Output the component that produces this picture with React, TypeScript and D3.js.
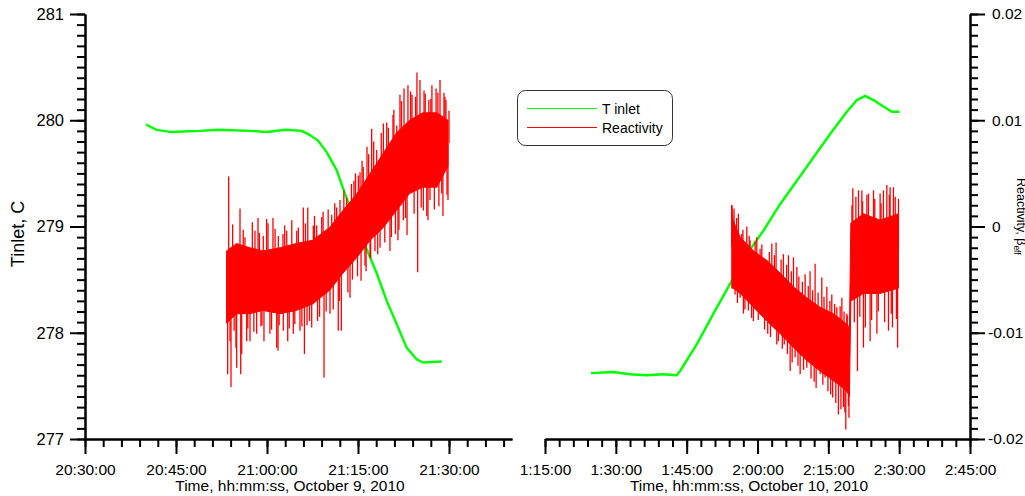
import React from 'react';
import * as d3 from 'd3';

type Pt = [string, number];
type Band = [string, number, number];

// T inlet, C
const tinletOct9: Pt[] = [
  ['20:40:03', 279.96], ['20:41:49', 279.91], ['20:44:00', 279.89], ['20:48:58', 279.90], ['20:52:00', 279.91],
  ['20:57:12', 279.90], ['21:00:00', 279.89], ['21:03:00', 279.91], ['21:05:43', 279.90], ['21:07:05', 279.86],
  ['21:08:24', 279.81], ['21:09:50', 279.70], ['21:11:29', 279.53], ['21:12:51', 279.31], ['21:15:49', 278.87],
  ['21:18:05', 278.56], ['21:19:44', 278.30], ['21:21:23', 278.08], ['21:23:01', 277.86], ['21:24:40', 277.75],
  ['21:25:43', 277.72], ['21:28:48', 277.73],
];

const tinletOct10: Pt[] = [
  ['01:24:45', 277.62], ['01:29:28', 277.63], ['01:33:00', 277.61], ['01:36:33', 277.60], ['01:40:00', 277.61],
  ['01:42:54', 277.60], ['01:43:36', 277.64], ['01:47:08', 277.89], ['01:50:40', 278.18], ['01:54:11', 278.46],
  ['01:57:44', 278.74], ['02:01:15', 278.96], ['02:04:47', 279.21], ['02:08:20', 279.43], ['02:11:50', 279.65],
  ['02:15:23', 279.87], ['02:18:55', 280.08], ['02:21:02', 280.19], ['02:22:48', 280.23], ['02:24:34', 280.19],
  ['02:26:40', 280.13], ['02:28:27', 280.08], ['02:30:04', 280.08],
];

// reactivity: dense band [time, upper, lower] and the spikes out of it
const reactCoreOct9: Band[] = [
  ['20:53:20', -0.0023, -0.0091], ['20:55:00', -0.0016, -0.0082], ['20:57:10', -0.0020, -0.0082],
  ['20:59:20', -0.0023, -0.0079], ['21:02:10', -0.0020, -0.0082], ['21:04:50', -0.0016, -0.0079],
  ['21:07:30', -0.0013, -0.0073], ['21:10:20', -0.0001, -0.0060], ['21:12:30', 0.0015, -0.0044],
  ['21:14:50', 0.0031, -0.0029], ['21:17:00', 0.0050, -0.0013], ['21:19:10', 0.0069, -0.0001],
  ['21:21:20', 0.0088, 0.0015], ['21:23:30', 0.0100, 0.0031], ['21:25:40', 0.0107, 0.0037],
  ['21:28:00', 0.0107, 0.0037], ['21:29:50', 0.0100, 0.0057],
];

const reactSpikesOct9: Pt[] = [
  ['20:53:41', 0.0047], ['20:55:33', 0.0017], ['20:56:22', -0.0010], ['20:58:01', -0.0004], ['20:58:31', 0.0008],
  ['20:59:23', -0.0009], ['20:59:56', 0.0007], ['21:00:59', 0.0008], ['21:01:52', -0.0009], ['21:02:38', -0.0007],
  ['21:03:15', -0.0004], ['21:04:54', -0.0004], ['21:05:59', 0.0018], ['21:06:43', 0.0018], ['21:07:38', 0.0001],
  ['21:08:11', 0.0001], ['21:09:01', 0.0009], ['21:10:40', 0.0011], ['21:11:29', 0.0018], ['21:12:02', 0.0025],
  ['21:13:08', 0.0027], ['21:14:20', 0.0043], ['21:15:03', 0.0048], ['21:15:20', 0.0051], ['21:15:52', 0.0056],
  ['21:16:29', 0.0075], ['21:17:15', 0.0092], ['21:18:05', 0.0072], ['21:19:11', 0.0097], ['21:19:44', 0.0098],
  ['21:20:46', 0.0105], ['21:21:23', 0.0095], ['21:21:55', 0.0124], ['21:22:35', 0.0130], ['21:23:14', 0.0133],
  ['21:23:54', 0.0124], ['21:24:43', 0.0145], ['21:25:13', 0.0138], ['21:25:53', 0.0128], ['21:26:40', 0.0119],
  ['21:27:11', 0.0133], ['21:27:52', 0.0130], ['21:28:31', 0.0138], ['21:29:10', 0.0126], ['21:29:30', 0.0119],
  ['21:30:00', 0.0109],
  ['20:53:31', -0.0139], ['20:53:54', -0.0108], ['20:54:04', -0.0151], ['20:54:53', -0.0114], ['20:55:00', -0.0133],
  ['20:55:40', -0.0139], ['20:55:50', -0.0120], ['20:56:39', -0.0108], ['20:57:12', -0.0108], ['20:58:18', -0.0101],
  ['20:59:10', -0.0093], ['20:59:30', -0.0108], ['21:00:29', -0.0101], ['21:01:36', -0.0114], ['21:01:49', -0.0117],
  ['21:02:41', -0.0098], ['21:03:25', -0.0108], ['21:04:20', -0.0101], ['21:05:26', -0.0098], ['21:06:10', -0.0120],
  ['21:06:36', -0.0093], ['21:07:22', -0.0095], ['21:08:20', -0.0089], ['21:09:24', -0.0142], ['21:10:23', -0.0082],
  ['21:11:45', -0.0098], ['21:12:15', -0.0098], ['21:13:41', -0.0067], ['21:15:30', -0.0051], ['21:16:09', -0.0037],
  ['21:16:59', -0.0029], ['21:17:48', -0.0023], ['21:18:38', -0.0020], ['21:20:16', -0.0023], ['21:21:10', -0.0007],
  ['21:21:35', -0.0013], ['21:22:28', 0.0006], ['21:23:05', -0.0008], ['21:24:50', -0.0043], ['21:25:46', 0.0015],
  ['21:26:32', 0.0006], ['21:26:52', 0.0025], ['21:28:48', 0.0031], ['21:29:00', 0.0010], ['21:29:50', 0.0025],
  // shorter ones along the band edges
  ['20:54:20', 0.0002], ['20:54:35', -0.0098], ['20:56:05', -0.0003], ['20:56:50', -0.0096], ['20:57:35', 0.0004],
  ['20:57:50', -0.0099], ['20:58:45', -0.0006], ['20:59:00', -0.0094], ['21:00:10', 0.0003], ['21:00:45', -0.0097],
  ['21:01:20', -0.0002], ['21:02:00', -0.0093], ['21:02:55', 0.0001], ['21:03:40', -0.0096], ['21:04:05', 0.0006],
  ['21:04:35', -0.0092], ['21:05:10', -0.0001], ['21:05:45', -0.0094], ['21:06:20', 0.0003], ['21:07:00', -0.0089],
  ['21:07:50', 0.0010], ['21:08:40', -0.0085], ['21:09:15', 0.0014], ['21:09:45', -0.0080], ['21:10:05', 0.0016],
  ['21:10:55', -0.0078], ['21:11:10', 0.0022], ['21:11:55', -0.0070], ['21:12:40', 0.0034], ['21:13:20', -0.0062],
  ['21:13:55', 0.0040], ['21:14:05', -0.0050], ['21:14:35', 0.0050], ['21:14:55', -0.0047], ['21:15:40', 0.0062],
  ['21:16:20', -0.0042], ['21:16:45', 0.0068], ['21:17:05', -0.0030], ['21:17:35', 0.0080], ['21:18:15', -0.0026],
  ['21:18:50', 0.0088], ['21:19:25', -0.0015], ['21:20:00', 0.0093], ['21:20:30', -0.0010], ['21:20:55', 0.0110],
  ['21:21:45', -0.0003], ['21:22:10', 0.0118], ['21:22:50', 0.0008], ['21:23:40', 0.0127], ['21:24:15', 0.0012],
  ['21:24:30', 0.0122], ['21:25:25', 0.0018], ['21:26:05', 0.0125], ['21:26:20', 0.0010], ['21:27:00', 0.0120],
  ['21:27:35', 0.0016], ['21:28:10', 0.0126], ['21:28:20', 0.0019], ['21:29:20', 0.0122], ['21:29:40', 0.0030],
];

const reactCoreOct10: Band[] = [
  ['01:54:33', 0.0020, -0.0058], ['01:54:50', 0.0006, -0.0058], ['01:56:20', -0.0010, -0.0063],
  ['01:59:10', -0.0023, -0.0076], ['02:02:00', -0.0032, -0.0089], ['02:04:50', -0.0044, -0.0101],
  ['02:07:40', -0.0057, -0.0114], ['02:10:25', -0.0067, -0.0126], ['02:13:15', -0.0076, -0.0136],
  ['02:16:05', -0.0082, -0.0145], ['02:18:55', -0.0092, -0.0155], ['02:19:28', -0.0095, -0.0160],
  ['02:19:46', 0.0003, -0.0070], ['02:22:26', 0.0012, -0.0063], ['02:25:58', 0.0006, -0.0063],
  ['02:29:51', 0.0012, -0.0058],
];

const reactSpikesOct10: Pt[] = [
  ['01:54:33', 0.0020], ['01:55:02', 0.0017], ['01:55:57', 0.0012], ['01:56:40', -0.0007], ['01:57:44', 0.0000],
  ['01:58:26', -0.0013], ['01:59:51', -0.0010], ['02:00:33', -0.0021], ['02:01:58', -0.0032], ['02:03:02', -0.0016],
  ['02:03:56', -0.0015], ['02:05:29', -0.0026], ['02:06:33', -0.0027], ['02:07:37', -0.0029], ['02:08:20', -0.0038],
  ['02:10:05', -0.0045], ['02:11:08', -0.0042], ['02:12:12', -0.0035], ['02:13:37', -0.0048], ['02:14:41', -0.0057],
  ['02:15:44', -0.0064], ['02:16:48', -0.0076], ['02:17:52', -0.0067], ['02:18:55', -0.0082], ['02:20:11', 0.0036],
  ['02:21:23', 0.0034], ['02:22:06', 0.0034], ['02:23:30', 0.0031], ['02:24:34', 0.0034], ['02:25:58', 0.0031],
  ['02:26:40', 0.0034], ['02:27:23', 0.0039], ['02:28:05', 0.0037], ['02:28:47', 0.0037], ['02:29:51', 0.0026],
  ['01:55:15', -0.0064], ['01:56:19', -0.0067], ['01:57:01', -0.0082], ['01:58:04', -0.0079], ['01:59:08', -0.0089],
  ['02:00:45', -0.0082], ['02:02:10', -0.0101], ['02:03:15', -0.0092], ['02:04:05', -0.0111], ['02:05:40', -0.0111],
  ['02:06:55', -0.0136], ['02:07:58', -0.0123], ['02:09:02', -0.0139], ['02:10:26', -0.0133], ['02:12:25', -0.0152],
  ['02:13:16', -0.0139], ['02:14:19', -0.0142], ['02:15:55', -0.0161], ['02:17:08', -0.0177], ['02:18:12', -0.0170],
  ['02:18:42', -0.0191], ['02:19:15', -0.0169], ['02:21:10', -0.0136], ['02:22:26', -0.0114], ['02:23:51', -0.0108],
  ['02:25:17', -0.0101], ['02:27:44', -0.0098], ['02:28:35', -0.0095], ['02:29:40', -0.0114],
  // shorter ones along the band edges
  ['01:55:35', 0.0008], ['01:55:45', -0.0072], ['01:56:55', -0.0003], ['01:57:20', -0.0078], ['01:58:15', -0.0009],
  ['01:58:45', -0.0086], ['01:59:30', -0.0014], ['02:00:10', -0.0088], ['02:00:55', -0.0017], ['02:01:30', -0.0097],
  ['02:02:30', -0.0024], ['02:02:45', -0.0104], ['02:03:35', -0.0027], ['02:04:25', -0.0108], ['02:05:00', -0.0031],
  ['02:05:15', -0.0115], ['02:06:10', -0.0036], ['02:06:20', -0.0120], ['02:07:10', -0.0042], ['02:07:20', -0.0128],
  ['02:08:45', -0.0047], ['02:08:35', -0.0131], ['02:09:30', -0.0052], ['02:09:45', -0.0135], ['02:10:45', -0.0056],
  ['02:11:20', -0.0143], ['02:11:40', -0.0060], ['02:12:00', -0.0146], ['02:12:50', -0.0062], ['02:13:50', -0.0149],
  ['02:14:05', -0.0066], ['02:14:55', -0.0155], ['02:15:20', -0.0070], ['02:15:30', -0.0158], ['02:16:20', -0.0073],
  ['02:16:35', -0.0166], ['02:17:30', -0.0075], ['02:17:40', -0.0172], ['02:18:20', -0.0080], ['02:18:30', -0.0175],
  ['02:19:00', -0.0084], ['02:19:22', -0.0180], ['02:20:00', 0.0020], ['02:20:30', -0.0090], ['02:20:50', 0.0028],
  ['02:21:40', -0.0085], ['02:22:15', 0.0024], ['02:22:50', -0.0095], ['02:23:10', 0.0030], ['02:24:10', -0.0088],
  ['02:24:50', 0.0026], ['02:25:35', -0.0080], ['02:26:10', 0.0022], ['02:26:55', -0.0090], ['02:27:55', 0.0030],
  ['02:28:20', -0.0082], ['02:29:10', 0.0028], ['02:29:25', -0.0087],
];

const tinletTicks = [277, 278, 279, 280, 281];
const reactTicks = [-0.02, -0.01, 0, 0.01, 0.02];
const legendItems = [
  {label: 'T inlet', color: '#00ff00'},
  {label: 'Reactivity', color: '#ff0000'},
];

const FONT = 'Arial, "Liberation Sans", sans-serif';
const parseTime = d3.timeParse('%Y-%m-%d %H:%M:%S');
const at = (day: string, t: string) => parseTime(`${day} ${t}`) as Date;

const panels = [
  {
    day: '2010-10-09', start: '20:30:00', end: '21:40:23', x0: 85, x1: 512,
    tinlet: tinletOct9, core: reactCoreOct9, spikes: reactSpikesOct9,
    title: 'Time, hh:mm:ss, October 9, 2010', titleX: 290,
  },
  {
    day: '2010-10-10', start: '01:15:00', end: '02:45:00', x0: 545, x1: 970,
    tinlet: tinletOct10, core: reactCoreOct10, spikes: reactSpikesOct10,
    title: 'Time, hh:mm:ss, October 10, 2010', titleX: 749,
  },
];

export default class App extends React.Component {
  svgRef = React.createRef<SVGSVGElement>();

  sizing = {
    width: 1025,
    height: 496,
    top: 14,
    bottom: 439,
    left: 85,
    right: 970,
  };

  styleAxis(g: d3.Selection<SVGGElement, unknown, null, undefined>, size: string): void {
    g.selectAll('path, line').attr('stroke', '#000').attr('stroke-width', 2);
    g.selectAll('text').attr('font-size', size).attr('font-family', FONT).attr('fill', '#000');
  }

  setupDom(): void {
    const {top, bottom, left, right} = this.sizing;
    const svg = d3.select(this.svgRef.current);
    svg.selectAll('*').remove();

    const yT = d3.scaleLinear().domain([277, 281]).range([bottom, top]);
    const yR = d3.scaleLinear().domain([-0.02, 0.02]).range([bottom, top]);

    panels.forEach(p => {
      const x = d3.scaleTime()
        .domain([at(p.day, p.start), at(p.day, p.end)])
        .range([p.x0, p.x1]);
      const tx = (t: string) => x(at(p.day, t));

      svg.append('path')
        .datum(p.tinlet)
        .attr('fill', 'none')
        .attr('stroke', '#00ff00')
        .attr('stroke-width', 2.4)
        .attr('stroke-linejoin', 'round')
        .attr('d', d3.line<Pt>().x(d => tx(d[0])).y(d => yT(d[1])));

      svg.append('path')
        .datum(p.core)
        .attr('fill', '#ff0000')
        .attr('stroke', '#ff0000')
        .attr('stroke-width', 1)
        .attr('d', d3.area<Band>().x(d => tx(d[0])).y0(d => yR(d[2])).y1(d => yR(d[1])));

      const mid = d3.scaleTime()
        .domain(p.core.map(d => at(p.day, d[0])))
        .range(p.core.map(d => (d[1] + d[2]) / 2))
        .clamp(true);

      svg.append('g')
        .selectAll('line')
        .data(p.spikes)
        .join('line')
        .attr('x1', d => tx(d[0]))
        .attr('x2', d => tx(d[0]))
        .attr('y1', d => yR(d[1]))
        .attr('y2', d => yR(mid(at(p.day, d[0]))))
        .attr('stroke', '#ff0000')
        .attr('stroke-width', 1.3);

      const minor = svg.append('g')
        .attr('transform', `translate(0, ${bottom})`)
        .call(d3.axisBottom(x).ticks(d3.timeMinute.every(3)).tickSize(8).tickSizeOuter(0).tickFormat(() => ''));
      this.styleAxis(minor, '15.5px');

      const major = svg.append('g')
        .attr('transform', `translate(0, ${bottom})`)
        .call(d3.axisBottom(x).ticks(d3.timeMinute.every(15)).tickSize(15).tickSizeOuter(0).tickPadding(10)
          .tickFormat(d => d3.timeFormat('%-H:%M:%S')(d as Date)));
      this.styleAxis(major, '15.5px');

      svg.append('text')
        .attr('x', p.titleX)
        .attr('y', 491)
        .attr('text-anchor', 'middle')
        .attr('font-family', FONT)
        .attr('font-size', '15.5px')
        .text(p.title);
    });

    // left axis, T inlet
    const tMinor = d3.range(277, 281.001, 0.1);
    const lMinor = svg.append('g')
      .attr('transform', `translate(${left}, 0)`)
      .call(d3.axisLeft(yT).tickValues(tMinor).tickSize(8).tickSizeOuter(0).tickFormat(() => ''));
    this.styleAxis(lMinor, '16.5px');
    const lMajor = svg.append('g')
      .attr('transform', `translate(${left}, 0)`)
      .call(d3.axisLeft(yT).tickValues(tinletTicks).tickSize(15).tickSizeOuter(0).tickPadding(6)
        .tickFormat(d => String(d)));
    this.styleAxis(lMajor, '16.5px');

    svg.append('text')
      .attr('transform', 'translate(24, 234) rotate(-90)')
      .attr('text-anchor', 'middle')
      .attr('font-family', FONT)
      .attr('font-size', '18px')
      .text('Tinlet, C');

    // right axis, reactivity
    const rMinor = d3.range(-20, 20.5, 1).map(v => v / 1000);
    const raMinor = svg.append('g')
      .attr('transform', `translate(${right}, 0)`)
      .call(d3.axisRight(yR).tickValues(rMinor).tickSize(8).tickSizeOuter(0).tickFormat(() => ''));
    this.styleAxis(raMinor, '15.5px');
    const raMajor = svg.append('g')
      .attr('transform', `translate(${right}, 0)`)
      .call(d3.axisRight(yR).tickValues(reactTicks).tickSize(15).tickSizeOuter(0).tickPadding(7)
        .tickFormat(d => String(+d)));
    this.styleAxis(raMajor, '15.5px');
    raMajor.selectAll<SVGTextElement, number>('text').attr('dx', d => (d < 0 ? -4 : 0));

    const rTitle = svg.append('text')
      .attr('transform', 'translate(1017, 178) rotate(90)')
      .attr('font-family', FONT)
      .attr('font-size', '12.5px');
    rTitle.append('tspan').text('Reactivity, β');
    rTitle.append('tspan').attr('font-size', '8.5px').attr('dy', 3).text('eff');

    // legend
    const lg = svg.append('g');
    lg.append('rect')
      .attr('x', 517.5).attr('y', 90.5).attr('width', 155).attr('height', 55).attr('rx', 8)
      .attr('fill', '#fff').attr('stroke', '#333').attr('stroke-width', 1);
    legendItems.forEach((item, i) => {
      const y = 108.5 + i * 19;
      lg.append('line')
        .attr('x1', 527).attr('x2', 597).attr('y1', y).attr('y2', y)
        .attr('stroke', item.color).attr('stroke-width', 1);
      lg.append('text')
        .attr('x', 602).attr('y', y + 5)
        .attr('font-family', FONT).attr('font-size', '14px')
        .text(item.label);
    });
  }

  componentDidMount(): void {
    this.setupDom();
  }

  render(): React.ReactNode {
    const {width, height} = this.sizing;
    return (
      <svg
        ref={this.svgRef}
        width={width}
        height={height}
        style={{position: 'absolute', left: 0, top: 0, background: '#fff'}}
      />
    );
  }
}
